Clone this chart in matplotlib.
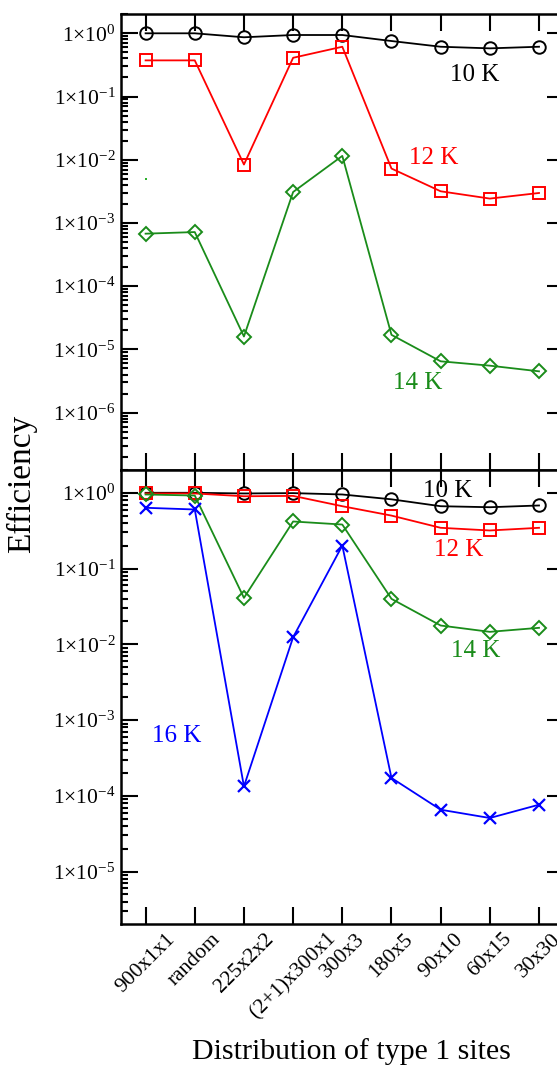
import math

import matplotlib
matplotlib.use("Agg")
import matplotlib.pyplot as plt
from matplotlib.ticker import FuncFormatter, LogLocator, NullFormatter

plt.rcParams["font.family"] = ["Liberation Serif", "DejaVu Serif"]
plt.rcParams["mathtext.fontset"] = "custom"
plt.rcParams["mathtext.rm"] = "Liberation Serif"
plt.rcParams["mathtext.it"] = "Liberation Serif:italic"
plt.rcParams["mathtext.bf"] = "Liberation Serif:bold"

categories = ["900x1x1", "random", "225x2x2", "(2+1)x300x1", "300x3",
              "180x5", "90x10", "60x15", "30x30"]

# upper panel
top_10K = [1.0, 1.0, 0.865, 0.94, 0.94, 0.755, 0.613, 0.578, 0.613]
top_12K = [0.373, 0.373, 0.0084, 0.41, 0.613, 0.00726, 0.00317, 0.00243, 0.00298]
top_14K = [6.77e-4, 7.18e-4, 1.6e-5, 3.09e-3, 0.0115, 1.7e-5, 6.48e-6, 5.53e-6, 4.5e-6]
top_stray = [4.9e-3]

# lower panel
bot_10K = [1.0, 1.0, 0.98, 0.99, 0.95, 0.82, 0.665, 0.645, 0.68]
bot_12K = [0.98, 0.98, 0.9, 0.91, 0.665, 0.5, 0.345, 0.318, 0.345]
bot_14K = [0.95, 0.92, 0.041, 0.418, 0.381, 0.0398, 0.0177, 0.0146, 0.0165]
bot_16K = [0.634, 0.602, 1.33e-4, 0.0124, 0.201, 1.72e-4, 6.55e-5, 5.09e-5, 7.63e-5]

x = list(range(len(categories)))
green = "#1a8c1a"


def sci(v, pos):
    e = int(round(math.log10(v)))
    return "1\u00d710$^{%d}$" % e


fig = plt.figure(figsize=(5.57, 10.68), dpi=100)
ax1 = fig.add_axes([121 / 557, 598.5 / 1068, 442.6 / 557, 455.5 / 1068])
ax2 = fig.add_axes([121 / 557, 144 / 1068, 442.6 / 557, 454.5 / 1068])

lw = 1.3
ax1.plot(x, top_10K, "-o", color="black", lw=lw, ms=9, mfc="none", mew=1.4)
ax1.plot(x, top_12K, "-s", color="red", lw=lw, ms=8, mfc="none", mew=1.4)
ax1.plot(x, top_14K, "-D", color=green, lw=lw, ms=7, mfc="none", mew=1.4)
ax1.plot([0], top_stray, "s", color="#2db02d", ms=1.5, mew=0)

ax2.plot(x, bot_10K, "-o", color="black", lw=lw, ms=9, mfc="none", mew=1.4)
ax2.plot(x, bot_12K, "-s", color="red", lw=lw, ms=8, mfc="none", mew=1.4)
ax2.plot(x, bot_14K, "-D", color=green, lw=lw, ms=7, mfc="none", mew=1.4)
ax2.plot(x, bot_16K, "-x", color="blue", lw=lw, ms=8, mew=1.6)

ax1.set_ylim(1.26e-7, 2.02)
ax2.set_ylim(2.03e-6, 2.03)

for ax in (ax1, ax2):
    ax.set_yscale("log")
    ax.set_xlim(-0.5, 8.5)
    ax.set_xticks(x)
    ax.yaxis.set_major_locator(LogLocator(base=10, numticks=20))
    ax.yaxis.set_minor_locator(LogLocator(base=10, subs=range(2, 10), numticks=20))
    ax.yaxis.set_major_formatter(FuncFormatter(sci))
    ax.yaxis.set_minor_formatter(NullFormatter())
    ax.tick_params(which="both", direction="in", top=True, right=True, width=1.5)
    ax.tick_params(which="major", length=12.5, labelsize=15.5, pad=4)
    ax.tick_params(which="minor", length=5, right=False)
    for s in ax.spines.values():
        s.set_linewidth(1.8)

ax1.set_xticklabels([])
ax2.set_xticklabels(categories, rotation=45, fontsize=15.5)

ax1.text(6.70, 0.218, "10 K", color="black", fontsize=18, ha="center", va="center")
ax1.text(5.85, 0.0106, "12 K", color="red", fontsize=18, ha="center", va="center")
ax1.text(5.54, 2.9e-6, "14 K", color=green, fontsize=18, ha="center", va="center")

ax2.text(6.15, 1.05, "10 K", color="black", fontsize=18, ha="center", va="center")
ax2.text(6.36, 0.178, "12 K", color="red", fontsize=18, ha="center", va="center")
ax2.text(6.72, 0.0081, "14 K", color=green, fontsize=18, ha="center", va="center")
ax2.text(0.64, 6.2e-4, "16 K", color="blue", fontsize=18, ha="center", va="center")

fig.text(22 / 557, 1 - 484 / 1068, "Efficiency", rotation=90, fontsize=24,
         ha="center", va="center")
fig.text(351 / 557, 1 - 1052 / 1068, "Distribution of type 1 sites", fontsize=21.5,
         ha="center", va="center")

fig.savefig("out.png", dpi=100)
